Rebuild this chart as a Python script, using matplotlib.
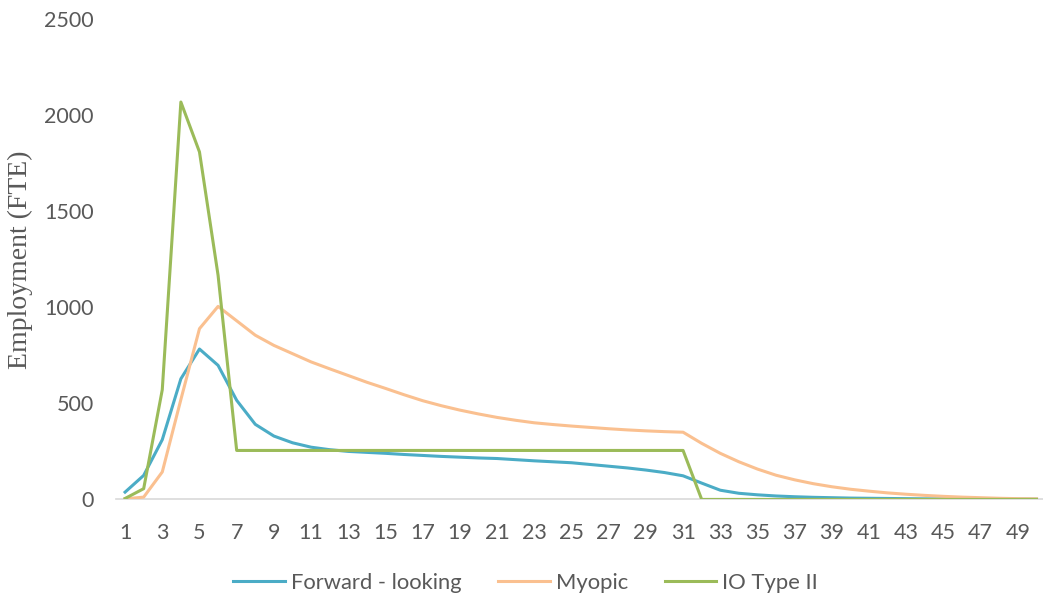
import matplotlib
matplotlib.use('Agg')
import matplotlib.pyplot as plt
import numpy as np

# 时期 1..50
periods = list(range(1, 51))

forward_looking = [38, 125, 311, 628, 783, 698, 516, 391, 330, 295,
                   272, 259, 250, 245, 240, 234, 229, 224, 220, 216,
                   213, 207, 201, 196, 191, 182, 173, 164, 153, 140,
                   123, 85, 48, 32, 24, 18, 14, 11, 9, 7,
                   6, 5, 4, 3, 3, 2, 2, 2, 1, 1]

myopic = [3, 12, 143, 520, 889, 1005, 930, 855, 802, 759,
          716, 680, 645, 610, 578, 545, 514, 488, 465, 445,
          427, 412, 399, 390, 382, 375, 368, 362, 357, 353,
          350, 292, 240, 196, 158, 126, 102, 82, 66, 53,
          43, 34, 27, 21, 16, 12, 9, 6, 4, 3]

io_type_ii = [5, 56, 571, 2069, 1809, 1167] + [255] * 25 + [0] * 19

series_names = ['Forward - looking', 'Myopic', 'IO Type II']
series_colors = ['#4BACC6', '#FAC090', '#9BBB59']
y_ticks = [0, 500, 1000, 1500, 2000, 2500]

grey = '#595959'
plt.rcParams['font.family'] = ['Lato', 'DejaVu Sans']

fig = plt.figure(figsize=(10.43, 6.01), dpi=100)
ax = fig.add_axes([0.111, 0.169, 0.889, 0.799])

for name, values, color in zip(series_names,
                               [forward_looking, myopic, io_type_ii],
                               series_colors):
    ax.plot(periods, values, color=color, linewidth=2.2, label=name,
            solid_joinstyle='round')

ax.set_xlim(0.5, 50.35)
ax.set_ylim(0, 2500)
ax.set_yticks(y_ticks)
ax.set_xticks(periods[::2])
ax.set_xticklabels([str(p) for p in periods[::2]])
ax.tick_params(axis='both', length=0, labelsize=15.5, colors=grey)
ax.tick_params(axis='y', pad=16)
ax.tick_params(axis='x', pad=17)

for side in ['top', 'right', 'left']:
    ax.spines[side].set_visible(False)
ax.spines['bottom'].set_color('#D9D9D9')
ax.spines['bottom'].set_linewidth(1.2)
ax.spines['bottom'].set_zorder(0)

ax.set_ylabel('Employment (FTE)', family='Liberation Serif', fontsize=20,
              color=grey, labelpad=8)

# 图例放在图的底部中间
handles, labels = ax.get_legend_handles_labels()
leg = fig.legend(handles, labels, loc='center', bbox_to_anchor=(0.504, 0.030),
                 ncol=3, frameon=False, fontsize=15.8, handlelength=2.33,
                 columnspacing=1.7, handletextpad=0.27)
for text in leg.get_texts():
    text.set_color(grey)

fig.savefig('out.png', dpi=100)
